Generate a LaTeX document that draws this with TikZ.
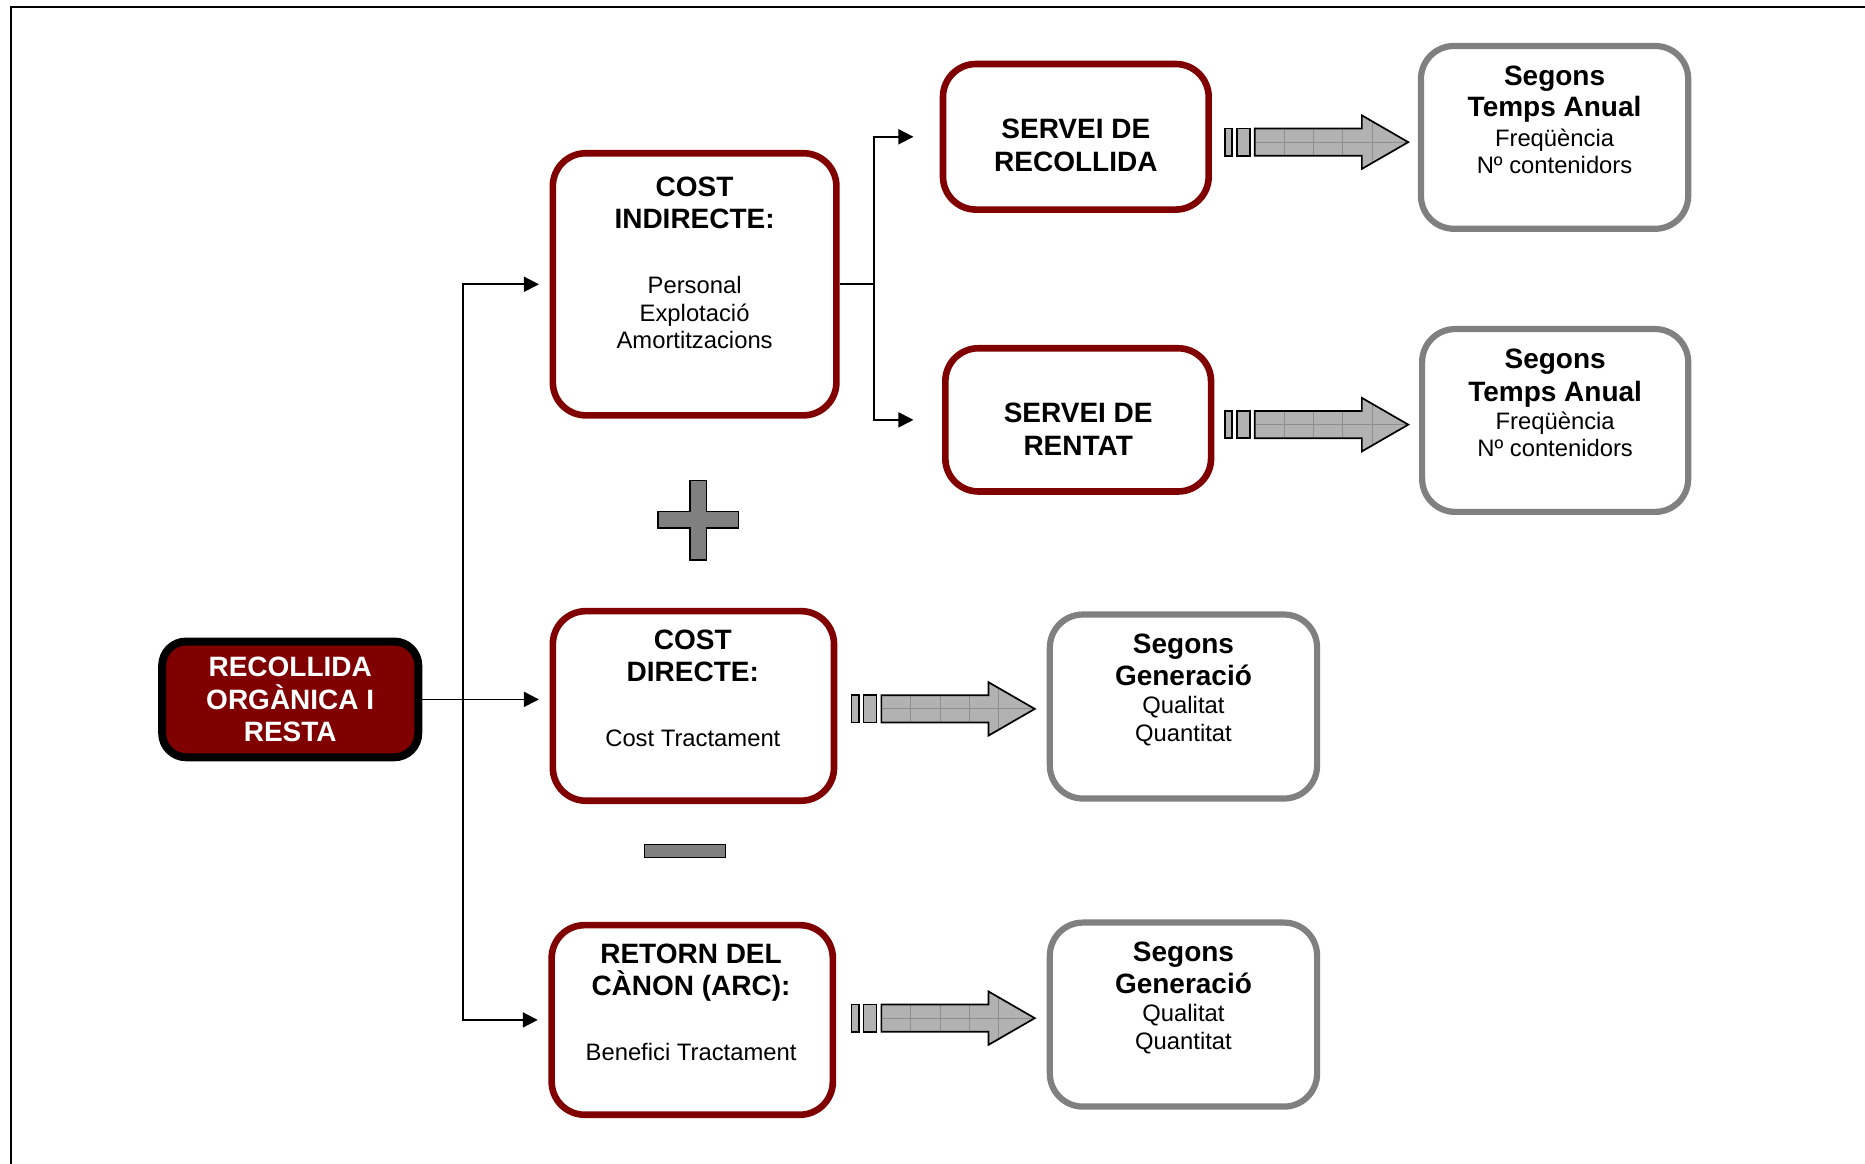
\documentclass[tikz,border=0pt]{standalone}
\usepackage{fontspec}
\setmainfont{Liberation Sans}
\usetikzlibrary{arrows.meta}
\definecolor{dred}{HTML}{800000}
\definecolor{bgray}{HTML}{808080}
\definecolor{afill}{HTML}{B2B2B2}
\definecolor{agrid}{HTML}{8E8E8E}
\newcommand\tbold{\fontsize{14}{16.1}\selectfont\bfseries}
\begin{document}
\begin{tikzpicture}[x=0.5947pt,y=-0.5947pt,
  redbox/.style={draw=dred,line width=3.3pt,rounded corners=16.5pt,inner sep=0pt},
  graybox/.style={draw=bgray,line width=3.1pt,rounded corners=16.5pt,inner sep=0pt},
  dims/.style 2 args={minimum width=#1*0.5947pt,minimum height=#2*0.5947pt},
  txt/.style={anchor=north,align=center,inner sep=0pt,font=\fontsize{11.9}{13.68}\selectfont},
  conn/.style={line width=0.85pt},
  arr/.style={conn,-{Triangle[length=7.5pt,width=7.5pt]}},
  sign/.style={fill=bgray,draw=black,line width=0.8pt},
  blockarrow/.pic={
    \draw[line width=0.85pt,fill=afill] (0,-11.5) rectangle (6,11.5);
    \draw[line width=0.85pt,fill=afill] (10,-11.5) rectangle (21,11.5);
    \begin{scope}
      \path[clip] (25,-11.5) -- (115,-11.5) -- (115,-22.5) -- (154,0) -- (115,22.5) -- (115,11.5) -- (25,11.5) -- cycle;
      \fill[afill] (25,-23) rectangle (155,23);
      \draw[agrid,line width=0.5pt] (25,0) -- (155,0);
      \foreach \k in {1,...,4} \draw[agrid,line width=0.5pt] (25+24.7*\k,-23) -- (25+24.7*\k,23);
    \end{scope}
    \draw[line width=0.85pt,line join=miter] (25,-11.5) -- (115,-11.5) -- (115,-22.5) -- (154,0) -- (115,22.5) -- (115,11.5) -- (25,11.5) -- cycle;
  }
]
\useasboundingbox (0,0) rectangle (1568,978.6);
\draw[line width=1pt] (1568,5.8) -- (9.2,5.8) -- (9.2,978.6);

% left source box
\node[draw=black,fill=dred,line width=4pt,rounded corners=12pt,dims={215.3}{97.3},inner sep=0pt,
      text=white,align=center,font=\fontsize{14}{16.06}\selectfont\bfseries] (rec) at (244,588) {RECOLLIDA\\ORGÀNICA I\\RESTA};

% red boxes
\node[redbox,dims={238.4}{220.4}] (ci) at (584,239) {};
\node[txt] (ci-t) at (584,148.4) {{\tbold COST}\\[2.4pt]{\tbold INDIRECTE:}\\[18.9pt]Personal\\Explotació\\Amortitzacions};

\node[redbox,dims={223.4}{122.4}] (sr) at (904.5,115) {};
\node[txt] (sr-t) at (904.5,99.4) {{\tbold SERVEI DE}\\[3pt]{\tbold RECOLLIDA}};

\node[redbox,dims={223.4}{120.4}] (st) at (906.5,353) {};
\node[txt] (st-t) at (906.5,338.4) {{\tbold SERVEI DE}\\[3pt]{\tbold RENTAT}};

\node[redbox,dims={236.4}{159.4}] (cd) at (583,593.5) {};
\node[txt] (cd-t) at (582.5,529.4) {{\tbold COST}\\[2.4pt]{\tbold DIRECTE:}\\[18.9pt]Cost Tractament};

\node[redbox,dims={236.4}{159.4}] (ra) at (582,857.5) {};
\node[txt] (ra-t) at (581,793.4) {{\tbold RETORN DEL}\\[2.4pt]{\tbold CÀNON (ARC):}\\[18.9pt]Benefici Tractament};

% gray boxes
\node[graybox,dims={224.7}{153.7}] (g1) at (1307,115.5) {};
\node[txt] (g1-t) at (1307,55.4) {{\tbold Segons}\\[1.8pt]{\tbold Temps Anual}\\[1pt]Freqüència\\Nº contenidors};

\node[graybox,dims={223.7}{153.7}] (g2) at (1307.5,353.5) {};
\node[txt] (g2-t) at (1307.5,293.4) {{\tbold Segons}\\[2.4pt]{\tbold Temps Anual}\\[0.5pt]Freqüència\\Nº contenidors};

\node[graybox,dims={224.7}{154.7}] (g3) at (995,594) {};
\node[txt] (g3-t) at (995,532.4) {{\tbold Segons}\\[2.4pt]{\tbold Generació}\\[0.5pt]Qualitat\\Quantitat};

\node[graybox,dims={224.7}{154.7}] (g4) at (995,853) {};
\node[txt] (g4-t) at (995,791.4) {{\tbold Segons}\\[2.4pt]{\tbold Generació}\\[0.5pt]Qualitat\\Quantitat};

% plus and minus signs
\draw[sign] (580,404) -- (594,404) -- (594,430) -- (621,430) -- (621,444) -- (594,444) -- (594,471)
  -- (580,471) -- (580,444) -- (553,444) -- (553,430) -- (580,430) -- cycle;
\draw[sign] (542,710) rectangle (610,721);

% connectors
\coordinate (j1) at (389,588);
\draw[conn] (rec.east) -- (j1);
\draw[arr,shorten >=5.3pt] (j1) |- (ci.west);
\draw[arr,shorten >=5.3pt] (j1) -- (j1 -| cd.west);
\draw[arr,shorten >=5.3pt] (j1) |- (ra.west);

\coordinate (j2) at (735,239);
\coordinate (t1) at (768,115);
\coordinate (t2) at (768,353);
\draw[conn] (ci.east) -- (j2);
\draw[arr] (j2) |- (t1);
\draw[arr] (j2) |- (t2);

% block arrows
\pic (a1) at (1030,119.5) {blockarrow};
\pic (a2) at (1030,357) {blockarrow};
\pic (a3) at (716,596) {blockarrow};
\pic (a4) at (716,856) {blockarrow};
\end{tikzpicture}
\end{document}
